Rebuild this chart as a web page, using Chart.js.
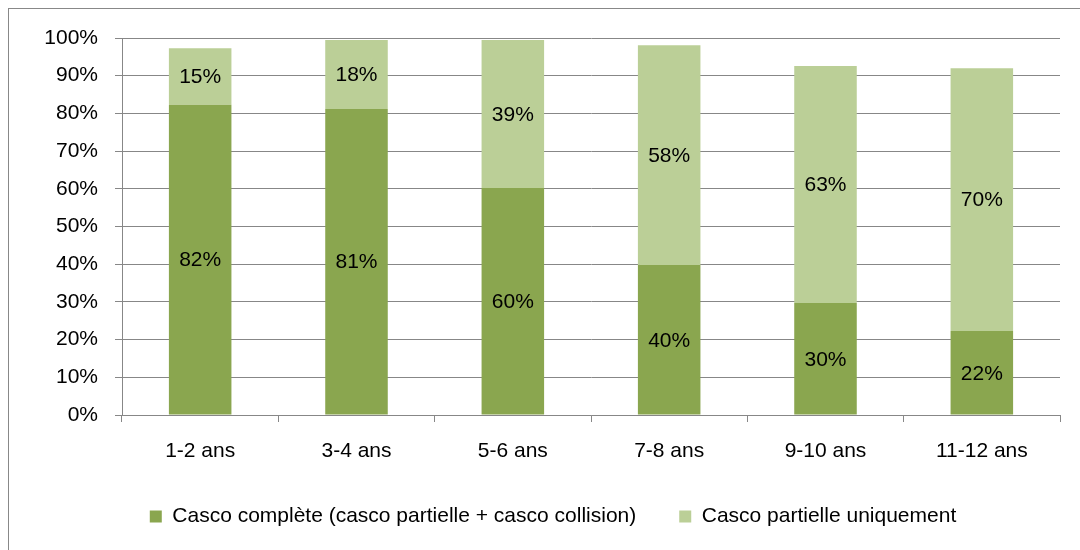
<!DOCTYPE html>
<html lang="fr">
<head>
  <meta charset="UTF-8" />
  <title>Casco par âge du véhicule</title>
  <script src="https://cdn.jsdelivr.net/npm/chart.js"></script>
  <style>
    html, body { margin: 0; padding: 0; background: #fff; overflow: hidden; }
    .frame {
      position: absolute; left: 8px; top: 8px;
      width: 1200px; height: 700px;
      border: 1px solid #888;
    }
    .wrap { position: absolute; left: 0; top: 0; width: 1080px; height: 550px; }
  </style>
</head>
<body>
  <div class="frame"></div>
  <div class="wrap"><canvas id="chart" width="1080" height="550"></canvas></div>

  <script>
    const categories = ['1-2 ans', '3-4 ans', '5-6 ans', '7-8 ans', '9-10 ans', '11-12 ans'];
    const seriesNames = ['Casco complète (casco partielle + casco collision)', 'Casco partielle uniquement'];
    const cascoComplete = [82.3, 81.2, 60.2, 39.8, 29.7, 22.3];
    const cascoPartielle = [15.0, 18.3, 39.3, 58.3, 62.9, 69.7];
    const yTicks = [0, 10, 20, 30, 40, 50, 60, 70, 80, 90, 100];

    const font = { family: "'Liberation Sans', Arial, sans-serif", size: 21 };
    const gridColor = '#878787';

    // value labels in the middle of each segment
    const segmentLabels = {
      id: 'segmentLabels',
      afterDatasetsDraw(chart) {
        const ctx = chart.ctx;
        ctx.save();
        ctx.font = `${font.size}px ${font.family}`;
        ctx.fillStyle = '#000';
        ctx.textAlign = 'center';
        ctx.textBaseline = 'middle';
        chart.data.datasets.forEach((ds, i) => {
          chart.getDatasetMeta(i).data.forEach((bar, j) => {
            const p = bar.getCenterPoint();
            ctx.fillText(Math.round(ds.data[j]) + '%', p.x, p.y + 1);
          });
        });
        ctx.restore();
      }
    };

    // y scale kept narrow so the legend centres like the original, but its labels need room
    const widenY = {
      id: 'widenY',
      afterLayout(chart) { chart.scales.y.left = 8; }
    };

    new Chart(document.getElementById('chart').getContext('2d'), {
      type: 'bar',
      data: {
        labels: categories,
        datasets: [
          { label: seriesNames[0], data: cascoComplete, backgroundColor: '#8AA64F' },
          { label: seriesNames[1], data: cascoPartielle, backgroundColor: '#BBCF97' }
        ]
      },
      options: {
        responsive: false,
        animation: false,
        devicePixelRatio: 1,
        layout: { padding: { left: 46, right: 20, top: 38, bottom: 13 } },
        datasets: { bar: { barPercentage: 0.4, categoryPercentage: 1 } },
        scales: {
          x: {
            stacked: true,
            offset: true,
            afterFit(scale) { scale.height = 48; },
            grid: { drawOnChartArea: false, drawTicks: true, tickLength: 7, offset: true, color: gridColor },
            border: { color: gridColor },
            ticks: { color: '#000', font, padding: 17 }
          },
          y: {
            stacked: true,
            min: 0,
            max: 100,
            afterFit(scale) { scale.width = 76; },
            afterBuildTicks(scale) { scale.ticks = yTicks.map(v => ({ value: v })); },
            grid: { color: gridColor, tickLength: 7 },
            border: { color: gridColor },
            ticks: { color: '#000', font, padding: 17, callback: v => v + '%' }
          }
        },
        plugins: {
          legend: {
            position: 'bottom',
            labels: { boxWidth: 12, boxHeight: 12, padding: 43, color: '#000', font }
          },
          tooltip: { enabled: false }
        }
      },
      plugins: [segmentLabels, widenY]
    });
  </script>
</body>
</html>
